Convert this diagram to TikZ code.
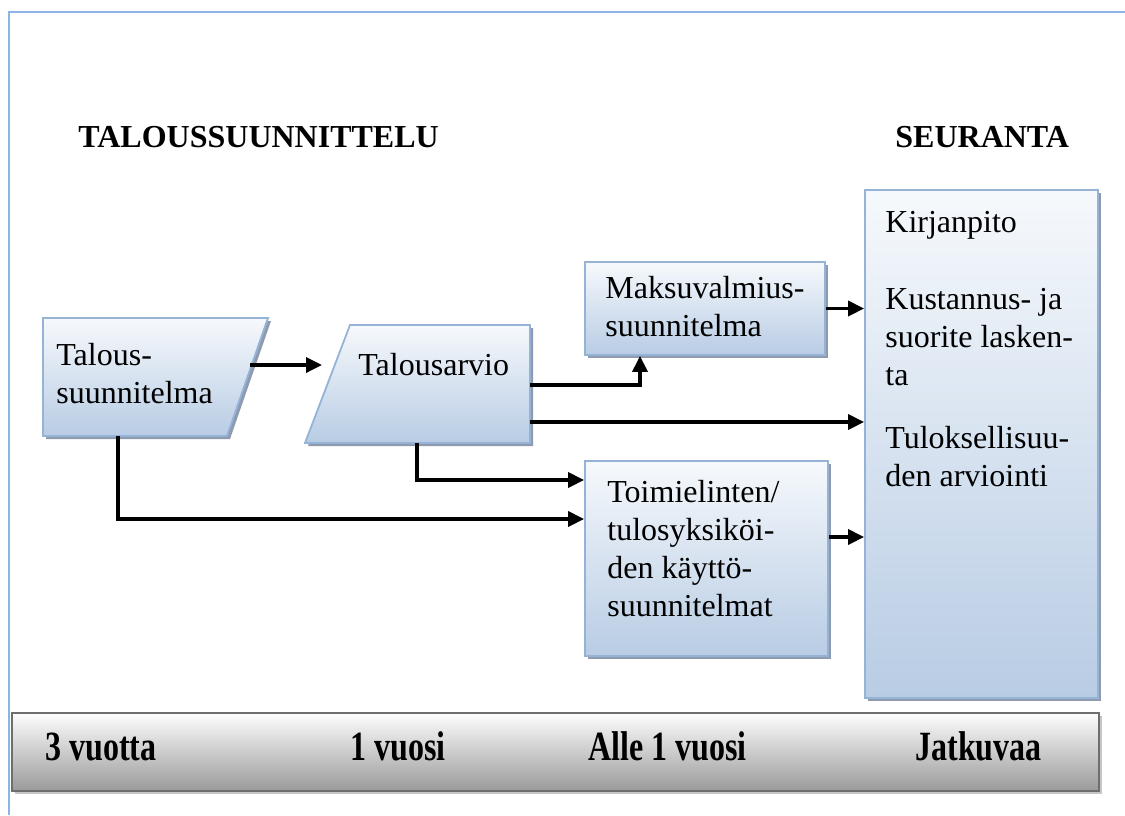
\documentclass[tikz,border=0pt]{standalone}
\usepackage{fontspec}
\setmainfont{Liberation Serif}
\usetikzlibrary{arrows.meta,shadows}

\definecolor{boxtop}{HTML}{F6F9FC}
\definecolor{boxbot}{HTML}{B8CCE4}
\definecolor{boxline}{HTML}{95B3D7}
\definecolor{boxshade}{HTML}{8E9BAE}
\definecolor{bartop}{HTML}{FDFDFD}
\definecolor{barbot}{HTML}{9A9A9A}
\definecolor{barline}{HTML}{6E6E6E}
\definecolor{barshade}{HTML}{C6C6C6}
\definecolor{framecol}{HTML}{8DB4E2}

\begin{document}
\begin{tikzpicture}
[x=0.5pt,y=-0.5pt,
 every node/.style={inner sep=0pt,align=left,font=\fontsize{16}{19}\selectfont},
 bluebox/.style={draw=boxline,line width=0.9pt,top color=boxtop,bottom color=boxbot,
   drop shadow={shadow xshift=1.5pt,shadow yshift=-1.5pt,fill=boxshade,opacity=1}},
 greybar/.style={draw=barline,line width=1.3pt,top color=bartop,bottom color=barbot,
   drop shadow={shadow xshift=1.5pt,shadow yshift=-1.5pt,fill=barshade,opacity=1}},
 arr/.style={line width=1.7pt,-{Triangle[length=8pt,width=7.5pt]}}]
\useasboundingbox (0,0) rectangle (1125,815);
\draw[framecol,line width=1.1pt] (9,815) -- (9,12) -- (1125,12);

% headings
\node[anchor=base west,font=\fontsize{16}{19}\selectfont\bfseries] (plan) at (78,147) {TALOUSSUUNNITTELU};
\node[anchor=base west,font=\fontsize{16}{19}\selectfont\bfseries] (seur) at (895,147) {SEURANTA};

% planning shapes
\path[bluebox] (43,318) -- (268,318) -- (227,436) -- (43,436) -- cycle;
\path[bluebox] (350,325) -- (530,325) -- (530,443) -- (305,443) -- cycle;
\node[bluebox,minimum width=120pt,minimum height=46.5pt] (maks) at (705,308.5) {};
\node[bluebox,minimum width=121.5pt,minimum height=97.5pt] (toim) at (706.5,558.5) {};
\node[bluebox,minimum width=116.5pt,minimum height=254pt] (kirj) at (981.5,444) {};

\node[anchor=north west] (talous) at (56,343) {Talous-\\suunnitelma};
\node[anchor=base west] (tarvio) at (358,375) {Talousarvio};
\node[anchor=north west] (maksT) at (605,276) {Maksuvalmius-\\suunnitelma};
\node[anchor=north west] (toimT) at (607,480) {Toimielinten/\\tulosyksiköi-\\den käyttö-\\suunnitelmat};
\node[anchor=base west] (kirjA) at (885,232) {Kirjanpito};
\node[anchor=north west] (kirjB) at (885,288) {Kustannus- ja\\suorite lasken-\\ta};
\node[anchor=north west] (kirjC) at (885,426) {Tuloksellisuu-\\den arviointi};

% time bar
\node[greybar,minimum width=543.5pt,minimum height=39pt] (bar) at (555.5,752) {};
\foreach \x/\t [count=\i] in {45/3 vuotta,350/1 vuosi,588/Alle 1 vuosi,915/Jatkuvaa}
  \node[anchor=base west] (t\i) at (\x,760) {\scalebox{1}[1.3]{\bfseries \t}};

% ports
\coordinate (tal-e) at (250,365);
\coordinate (tal-s) at (118,436);
\coordinate (arv-w) at (322,365);
\coordinate (arv-e1) at (530,385);
\coordinate (arv-e2) at (530,422);
\coordinate (arv-s) at (417,443);

\draw[arr] (tal-e) -- (arv-w);
\draw[arr] (arv-e1) -| ([xshift=-32.5pt]maks.south);
\draw[arr] (arv-e2) -- (arv-e2 -| kirj.west);
\draw[arr] (arv-s) |- ([yshift=39.25pt]toim.west);
\draw[arr] (tal-s) |- ([yshift=19.75pt]toim.west);
\draw[arr] (maks.east) -- (maks.east -| kirj.west);
\draw[arr] ([yshift=10.75pt]toim.east) -- ([yshift=10.75pt]toim.east -| kirj.west);
\end{tikzpicture}
\end{document}
